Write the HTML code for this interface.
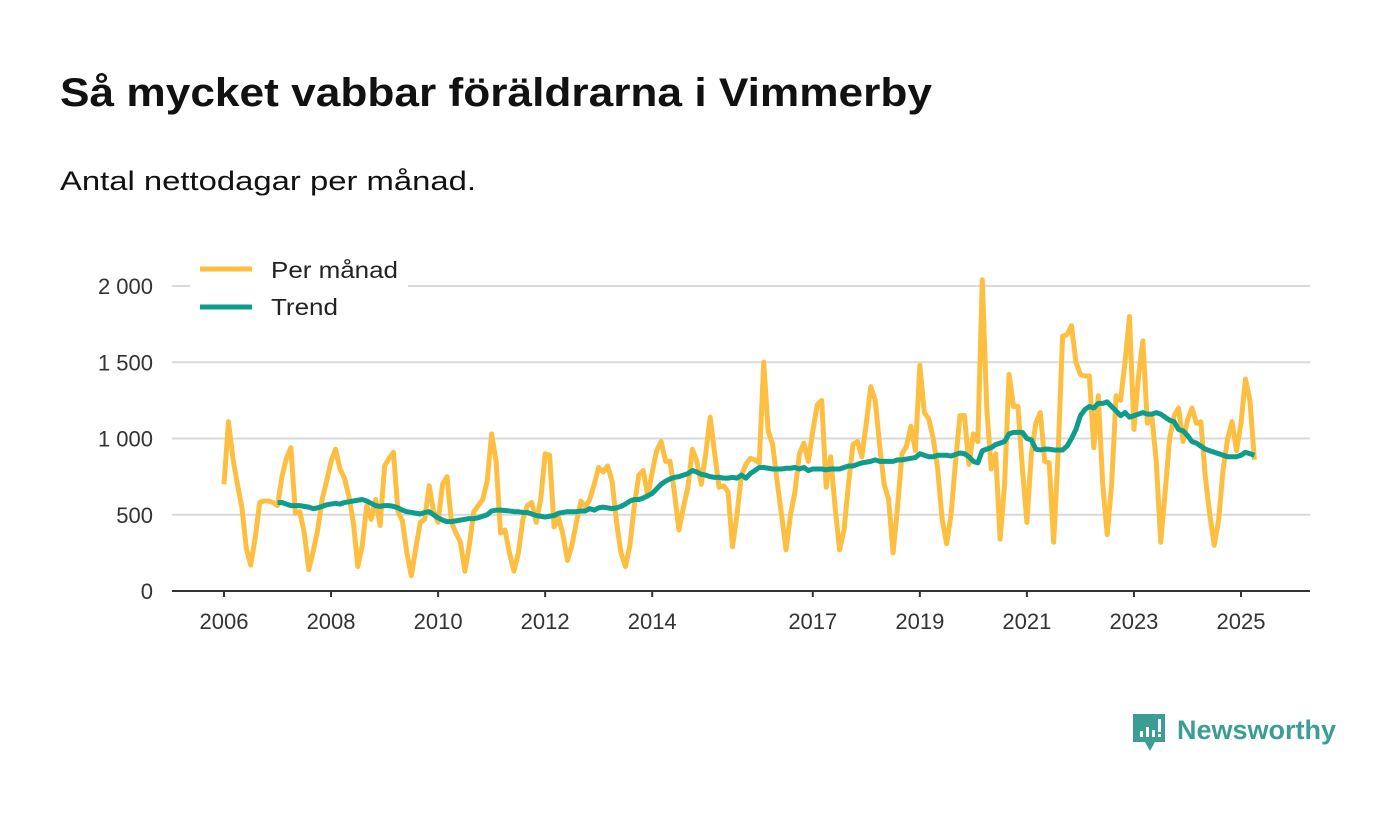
<!DOCTYPE html>
<html><head><meta charset="utf-8">
<style>
html,body{margin:0;padding:0;background:#fff;width:1400px;height:813px;overflow:hidden;font-family:"Liberation Sans",sans-serif}
</style></head>
<body>
<svg width="1400" height="813" xmlns="http://www.w3.org/2000/svg">
<text x="60" y="106" font-size="40" font-weight="bold" fill="#111" textLength="872" lengthAdjust="spacingAndGlyphs">Så mycket vabbar föräldrarna i Vimmerby</text>
<text x="60" y="190" font-size="27" fill="#111" textLength="416" lengthAdjust="spacingAndGlyphs">Antal nettodagar per månad.</text>
<g id="grid"></g>
<g id="yticks"></g>
<g id="xticks"></g>
<g id="series"></g>
<g>
<rect x="190" y="252" width="218" height="72" fill="#fff"/>
<g>
<line x1="200" y1="269" x2="252" y2="269" stroke="#fdbf42" stroke-width="5"/>
<text x="271" y="278" font-size="23" fill="#222" textLength="127" lengthAdjust="spacingAndGlyphs">Per månad</text></g>
<g>
<line x1="200" y1="307" x2="252" y2="307" stroke="#0e9c8c" stroke-width="5"/>
<text x="271" y="315" font-size="23" fill="#222" textLength="67" lengthAdjust="spacingAndGlyphs">Trend</text></g>
</g>
<g>
<path d="M1133 714 h32 v28 h-10 l-5 9 l-5 -9 h-12 z" fill="#3c9d92"/>
<rect x="1140" y="731" width="3" height="6" fill="#fff"/><rect x="1146" y="727" width="3" height="10" fill="#fff"/><rect x="1152" y="730" width="3" height="7" fill="#fff"/><rect x="1158" y="719" width="3" height="13" fill="#fff"/><rect x="1158" y="734" width="3" height="3" fill="#fff"/>
<text x="1177" y="739" font-size="27" font-weight="bold" fill="#3c9d92">Newsworthy</text>
</g>
</svg>
<script>
const yTicks=[0,500,1000,1500,2000];
const yTickLabels=["0","500","1 000","1 500","2 000"];
const xTickYears=[2006,2008,2010,2012,2014,2017,2019,2021,2023,2025];
const startYear=2006;
const monthly=[
700,1110,870,700,550,280,170,350,580,590,590,580,
560,750,870,940,510,520,380,140,260,400,600,720,
850,930,800,740,620,450,160,300,560,470,600,430,
820,870,910,520,460,250,100,280,450,470,690,520,
450,700,750,450,380,320,130,300,520,560,600,720,
1030,850,380,400,250,130,250,470,560,580,450,600,
900,890,420,480,370,200,300,450,590,550,600,700,
810,780,820,720,450,250,160,300,560,760,790,620,
780,920,980,850,850,640,400,550,680,930,850,700,
900,1140,900,680,690,650,290,500,760,830,870,860,
840,1500,1050,960,720,500,270,500,650,900,970,850,
1050,1220,1250,680,880,550,270,400,700,960,980,880,
1100,1340,1250,950,700,600,250,550,900,950,1080,920,
1480,1170,1130,1000,800,470,310,500,850,1150,1150,830,
1030,980,2040,1200,800,900,340,700,1420,1210,1210,800,
450,900,1100,1170,850,840,320,900,1670,1680,1740,1500,
1420,1410,1410,940,1280,700,370,700,1280,1250,1500,1800,
1060,1400,1640,1100,1150,850,320,650,1000,1150,1200,980,
1120,1200,1100,1110,750,500,300,470,800,1000,1110,920,
1100,1390,1250,860];
const trendStart=12;
const trend=[
580,580,570,560,560,560,555,550,540,545,555,565,
570,575,570,580,585,590,595,600,590,575,560,555,
560,560,555,545,530,520,515,510,505,515,520,500,
480,465,455,455,460,465,470,475,475,480,490,500,
525,530,530,528,525,520,520,515,515,505,495,490,
485,490,495,510,515,520,520,520,525,525,540,530,
545,550,545,540,545,555,570,590,600,600,610,625,
640,670,700,720,735,745,750,760,770,790,780,765,
760,750,745,745,740,740,745,740,760,740,770,790,
810,810,805,800,800,800,805,805,810,800,810,790,
800,800,800,795,800,800,800,810,820,820,830,840,
845,850,860,850,850,850,850,860,860,865,870,875,
900,890,880,880,890,890,890,885,895,905,900,880,
850,840,920,930,940,960,970,980,1030,1040,1040,1040,
1000,990,930,925,930,930,925,925,925,950,1000,1060,
1150,1190,1210,1200,1230,1230,1240,1210,1180,1150,1170,1140,
1150,1160,1170,1160,1160,1170,1160,1140,1120,1110,1060,1050,
1020,980,970,950,930,920,910,900,890,880,880,880,
890,910,900,890];

const NS="http://www.w3.org/2000/svg";
const X0=224,X1=1241,Y0=591,Y1=286;
function xScale(monthIndex){return X0+(X1-X0)*monthIndex/(19*12);}
function xYear(y){return xScale((y-startYear)*12);}
function yScale(v){return Y0-(Y0-Y1)*v/2000;}
function mk(tag,attrs,parent){const e=document.createElementNS(NS,tag);for(const k in attrs)e.setAttribute(k,attrs[k]);parent.appendChild(e);return e;}

const grid=document.getElementById('grid'),yg=document.getElementById('yticks'),xg=document.getElementById('xticks'),sg=document.getElementById('series');
yTicks.forEach((v,i)=>{
  if(v>0){const l=mk('line',{x1:172,x2:1310,y1:yScale(v),y2:yScale(v),stroke:'#d9d9d9','stroke-width':2},grid);
  
  }
  const t=mk('text',{x:153,y:yScale(v)+8,'text-anchor':'end','font-size':22,fill:'#333'},yg);
  t.textContent=yTickLabels[i];
  
  
});
const ax=mk('line',{x1:172,x2:1310,y1:Y0,y2:Y0,stroke:'#333','stroke-width':2},xg);


xTickYears.forEach(y=>{
  const tk=mk('line',{x1:xYear(y),x2:xYear(y),y1:Y0,y2:Y0+6,stroke:'#333','stroke-width':2},xg);
  
  
  const t=mk('text',{x:xYear(y),y:629,'text-anchor':'middle','font-size':22,fill:'#333'},xg);
  t.textContent=y;
  
  
});
const p1=mk('polyline',{points:monthly.map((v,i)=>xScale(i)+','+yScale(v)).join(' '),fill:'none',stroke:'#fdbf42','stroke-width':5,'stroke-linejoin':'round'},sg);


const p2=mk('polyline',{points:trend.map((v,i)=>xScale(i+trendStart)+','+yScale(v)).join(' '),fill:'none',stroke:'#0e9c8c','stroke-width':5,'stroke-linejoin':'round'},sg);


</script>
</body></html>
